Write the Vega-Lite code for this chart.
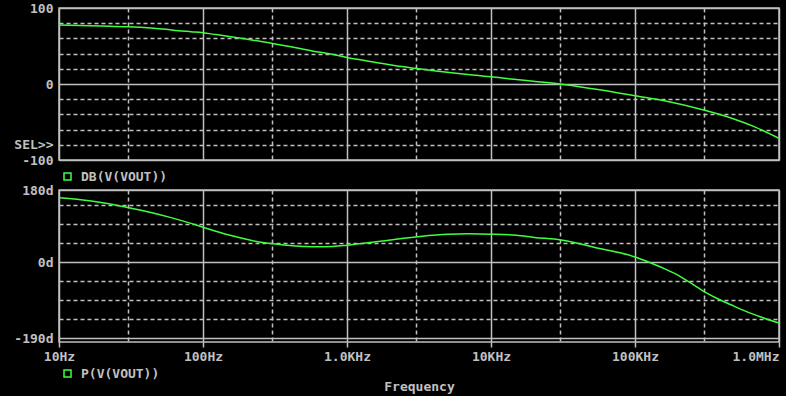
{
  "$schema": "https://vega.github.io/schema/vega-lite/v6.json",
  "background": "#000000",
  "padding": {"left": 13, "top": 1, "right": 8, "bottom": 2},
  "spacing": 30,
  "bounds": "flush",
  "resolve": {"scale": {"color": "independent"}, "legend": {"color": "independent"}},
  "config": {
    "view": {"stroke": "#c0c0c0", "strokeWidth": 1.5},
    "font": "DejaVu Sans Mono",
    "axis": {
      "labelFont": "DejaVu Sans Mono",
      "labelFontWeight": "bold",
      "labelFontSize": 13,
      "labelColor": "#c0c0c0",
      "gridColor": "#c0c0c0",
      "gridOpacity": 1,
      "gridWidth": 1.5,
      "domain": false,
      "ticks": false,
      "labelOverlap": false,
      "labelFlush": false,
      "labelBound": false,
      "titleFont": "DejaVu Sans Mono",
      "titleFontWeight": "bold",
      "titleFontSize": 13,
      "titleColor": "#c0c0c0"
    },
    "legend": {
      "labelFont": "DejaVu Sans Mono",
      "labelFontWeight": "bold",
      "labelFontSize": 13,
      "labelColor": "#c0c0c0",
      "symbolType": "square",
      "symbolSize": 49,
      "symbolStrokeWidth": 1.5,
      "symbolFillColor": "transparent",
      "symbolStrokeColor": "#40ff40",
      "labelOffset": 7,
      "padding": 0
    }
  },
  "datasets": {
    "mag": [
      {"f": 10, "db": 77.6},
      {"f": 19.6, "db": 76.3},
      {"f": 30, "db": 75.4},
      {"f": 43.5, "db": 73.7},
      {"f": 55.3, "db": 72},
      {"f": 67, "db": 70.2},
      {"f": 82.5, "db": 68.8},
      {"f": 100, "db": 67.5},
      {"f": 123, "db": 65},
      {"f": 156, "db": 62.3},
      {"f": 199, "db": 59.2},
      {"f": 300, "db": 53.5},
      {"f": 408, "db": 49},
      {"f": 562, "db": 43.8},
      {"f": 774, "db": 39.5},
      {"f": 1000, "db": 35},
      {"f": 1355, "db": 30.7},
      {"f": 1722, "db": 27.2},
      {"f": 2189, "db": 24.1},
      {"f": 3000, "db": 20.6},
      {"f": 4150, "db": 17.1},
      {"f": 5715, "db": 14},
      {"f": 7870, "db": 11.4},
      {"f": 10000, "db": 9.6},
      {"f": 13770, "db": 6.6},
      {"f": 18970, "db": 3.9},
      {"f": 30130, "db": 0},
      {"f": 42170, "db": -3.8},
      {"f": 65960, "db": -9.4},
      {"f": 100000, "db": -15.4},
      {"f": 160000, "db": -22},
      {"f": 300000, "db": -34.2},
      {"f": 464000, "db": -44.7},
      {"f": 673000, "db": -56.1},
      {"f": 1000000, "db": -71.5}
    ],
    "phase": [
      {"f": 10, "deg": 160.5},
      {"f": 14.2, "deg": 155.7},
      {"f": 19.6, "deg": 149},
      {"f": 30, "deg": 136.5},
      {"f": 43.5, "deg": 124},
      {"f": 60, "deg": 111},
      {"f": 82.5, "deg": 96.5},
      {"f": 100, "deg": 87},
      {"f": 133, "deg": 73},
      {"f": 183.5, "deg": 60},
      {"f": 245, "deg": 50},
      {"f": 300, "deg": 46},
      {"f": 400, "deg": 41},
      {"f": 500, "deg": 39},
      {"f": 600, "deg": 38},
      {"f": 800, "deg": 39},
      {"f": 1000, "deg": 42},
      {"f": 1700, "deg": 52},
      {"f": 3000, "deg": 62.8},
      {"f": 5000, "deg": 69.5},
      {"f": 7000, "deg": 70.4},
      {"f": 10000, "deg": 69.6},
      {"f": 15000, "deg": 67},
      {"f": 20000, "deg": 61.5},
      {"f": 30600, "deg": 55},
      {"f": 42000, "deg": 45},
      {"f": 58000, "deg": 33},
      {"f": 80000, "deg": 22.5},
      {"f": 100000, "deg": 12.5},
      {"f": 129000, "deg": -2.5},
      {"f": 164000, "deg": -18.5},
      {"f": 208000, "deg": -37},
      {"f": 265000, "deg": -61},
      {"f": 300000, "deg": -73.5},
      {"f": 366000, "deg": -90},
      {"f": 464000, "deg": -107},
      {"f": 590000, "deg": -123.5},
      {"f": 750000, "deg": -137.5},
      {"f": 1000000, "deg": -152.5}
    ]
  },
  "vconcat": [
    {
      "width": 720,
      "height": 152,
      "data": {"name": "mag"},
      "mark": {"type": "line", "strokeWidth": 1.5, "interpolate": "monotone", "clip": true},
      "encoding": {
        "x": {
          "field": "f",
          "type": "quantitative",
          "scale": {"type": "log", "domain": [10, 1000000], "nice": false},
          "axis": {
            "values": [10, 30, 100, 300, 1000, 3000, 10000, 30000, 100000, 300000, 1000000],
            "labels": false,
            "title": null,
            "gridDash": {"condition": {"test": "abs(log(datum.value)/LN10 - round(log(datum.value)/LN10)) < 0.01", "value": []}, "value": [4, 3]}
          }
        },
        "y": {
          "field": "db",
          "type": "quantitative",
          "scale": {"domain": [-100, 100], "nice": false},
          "axis": {
            "values": [-100, -80, -60, -40, -20, 0, 20, 40, 60, 80, 100],
            "labelExpr": "datum.value == 100 ? '100' : datum.value == 0 ? '0' : datum.value == -80 ? 'SEL>>' : datum.value == -100 ? '-100' : ''",
            "labelPadding": 6,
            "title": null,
            "gridDash": {"condition": {"test": "datum.value == 0 || abs(datum.value) == 100", "value": []}, "value": [4, 3]}
          }
        },
        "color": {
          "datum": "DB(V(VOUT))",
          "scale": {"range": ["#40ff40"]},
          "legend": {"orient": "none", "legendX": 2, "legendY": 162, "title": null}
        }
      }
    },
    {
      "width": 720,
      "height": 152,
      "data": {"name": "phase"},
      "mark": {"type": "line", "strokeWidth": 1.5, "interpolate": "monotone", "clip": true},
      "encoding": {
        "x": {
          "field": "f",
          "type": "quantitative",
          "scale": {"type": "log", "domain": [10, 1000000], "nice": false},
          "axis": {
            "values": [10, 30, 100, 300, 1000, 3000, 10000, 30000, 100000, 300000, 1000000],
            "labelExpr": "datum.value == 10 ? '10Hz' : datum.value == 100 ? '100Hz' : datum.value == 1000 ? '1.0KHz' : datum.value == 10000 ? '10KHz' : datum.value == 100000 ? '100KHz' : datum.value == 1000000 ? '1.0MHz' : ''",
            "labelAlign": {"condition": {"test": "datum.value >= 1000000", "value": "right"}, "value": "center"},
            "labelPadding": 3,
            "ticks": true,
            "tickSize": 5,
            "tickWidth": 1.5,
            "tickColor": "#c0c0c0",
            "tickOpacity": {"condition": {"test": "abs(log(datum.value)/LN10 - round(log(datum.value)/LN10)) < 0.01", "value": 1}, "value": 0},
            "title": "Frequency",
            "titlePadding": 17,
            "gridDash": {"condition": {"test": "abs(log(datum.value)/LN10 - round(log(datum.value)/LN10)) < 0.01", "value": []}, "value": [4, 3]}
          }
        },
        "y": {
          "field": "deg",
          "type": "quantitative",
          "scale": {"domain": [-200, 180], "nice": false},
          "axis": {
            "values": [-190, -142.5, -95, -47.5, 0, 47.5, 95, 142.5, 180],
            "labelExpr": "datum.value == 180 ? '180d' : datum.value == 0 ? '0d' : datum.value == -190 ? '-190d' : ''",
            "labelPadding": 6,
            "title": null,
            "gridDash": {"condition": {"test": "datum.value == 0 || datum.value == 180 || datum.value == -190", "value": []}, "value": [4, 3]}
          }
        },
        "color": {
          "datum": "P(V(VOUT))",
          "scale": {"range": ["#40ff40"]},
          "legend": {"orient": "none", "legendX": 2, "legendY": 177, "title": null}
        }
      }
    }
  ]
}
